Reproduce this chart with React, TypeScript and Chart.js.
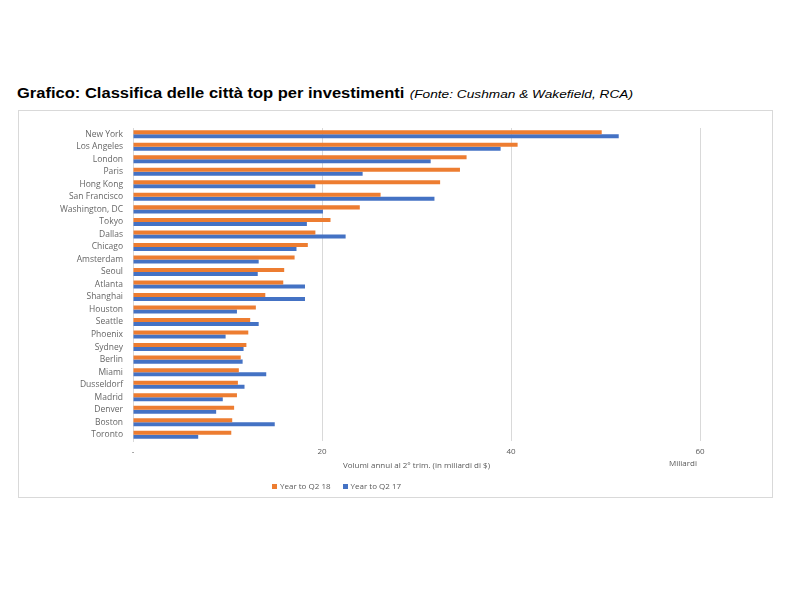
import React, { useEffect, useRef } from "react";
import { Chart, registerables } from "chart.js";

Chart.register(...registerables);

const cities = [
  "New York", "Los Angeles", "London", "Paris", "Hong Kong", "San Francisco",
  "Washington, DC", "Tokyo", "Dallas", "Chicago", "Amsterdam", "Seoul",
  "Atlanta", "Shanghai", "Houston", "Seattle", "Phoenix", "Sydney", "Berlin",
  "Miami", "Dusseldorf", "Madrid", "Denver", "Boston", "Toronto",
];
const yearQ218 = [
  49.6, 40.7, 35.3, 34.6, 32.5, 26.2, 24.0, 20.9, 19.3, 18.5, 17.1, 16.0,
  15.9, 14.0, 13.0, 12.4, 12.2, 12.0, 11.4, 11.2, 11.1, 11.0, 10.7, 10.5, 10.4,
];
const yearQ217 = [
  51.4, 38.9, 31.5, 24.3, 19.3, 31.9, 20.1, 18.4, 22.5, 17.3, 13.3, 13.2,
  18.2, 18.2, 11.0, 13.3, 9.8, 11.7, 11.6, 14.1, 11.8, 9.5, 8.8, 15.0, 6.9,
];
const seriesLabels = ["Year to Q2 18", "Year to Q2 17"];
const xTicks = [0, 20, 40, 60];
const xTickLabels = ["-", "20", "40", "60"];

const ORANGE = "#ED7D31";
const BLUE = "#4472C4";
const FONT = "'Open Sans', 'Liberation Sans', sans-serif";

export default function App() {
  const ref = useRef<HTMLCanvasElement | null>(null);

  useEffect(() => {
    if (!ref.current) return;
    const chart = new Chart(ref.current, {
      type: "bar",
      data: {
        labels: cities,
        datasets: [
          { label: seriesLabels[0], data: yearQ218, backgroundColor: ORANGE },
          { label: seriesLabels[1], data: yearQ217, backgroundColor: BLUE },
        ],
      },
      options: {
        indexAxis: "y",
        responsive: false,
        animation: false,
        layout: { padding: { top: 17, right: 72, bottom: 26, left: 0 } },
        datasets: { bar: { categoryPercentage: 0.64, barPercentage: 1 } },
        plugins: {
          legend: { display: false },
          tooltip: { enabled: false },
        },
        scales: {
          x: {
            min: 0,
            max: 60,
            afterBuildTicks: (s: any) => {
              s.ticks = xTicks.map((v) => ({ value: v }));
            },
            afterFit: (s: any) => {
              s.height = 30;
            },
            ticks: {
              padding: 6,
              color: "#595959",
              font: { family: FONT, size: 8 },
              callback: (v: any) => xTickLabels[xTicks.indexOf(Number(v))] ?? String(v),
            },
            grid: { color: "#d9d9d9", drawTicks: false },
            border: { display: false },
            title: {
              display: true,
              text: "Volumi annui al 2° trim. (in miliardi di $)",
              color: "#595959",
              font: { family: FONT, size: 8 },
              padding: { top: 1, bottom: 0 },
            },
          },
          y: {
            afterFit: (s: any) => {
              s.width = 114;
            },
            ticks: {
              padding: 10,
              color: "#666666",
              font: { family: FONT, size: 8.5 },
              autoSkip: false,
            },
            grid: { display: false, drawTicks: false },
            border: { display: true, color: "#d9d9d9" },
          },
        },
      },
    });
    return () => chart.destroy();
  }, []);

  const small: React.CSSProperties = {
    fontFamily: FONT,
    fontSize: 8,
    color: "#595959",
    position: "absolute",
    whiteSpace: "nowrap",
    lineHeight: "10px",
  };

  return (
    <div style={{ position: "relative", width: 784, height: 584 }}>
      <div
        style={{
          position: "absolute",
          left: 9,
          top: 77,
          whiteSpace: "nowrap",
          fontFamily: "'Liberation Sans', Arial, sans-serif",
          color: "#000",
          lineHeight: "16px",
          transform: "scaleX(1.18)",
          transformOrigin: "left center",
        }}
      >
        <span style={{ fontWeight: "bold", fontSize: 14 }}>
          Grafico: Classifica delle città top per investimenti
        </span>{" "}
        <span style={{ fontStyle: "italic", fontSize: 11.6 }}>
          (Fonte: Cushman &amp; Wakefield, RCA)
        </span>
      </div>
      <div
        style={{
          position: "absolute",
          left: 10,
          top: 102,
          width: 755,
          height: 388,
          boxSizing: "border-box",
          border: "1px solid #d9d9d9",
          background: "#fff",
        }}
      >
        <canvas
          ref={ref}
          width={753}
          height={386}
          style={{ position: "absolute", left: 0, top: 0 }}
        />
        <div style={{ ...small, right: 753 - 678, top: 347 }}>Miliardi</div>
        <div style={{ ...small, left: 253, top: 370, display: "flex", alignItems: "center" }}>
          <span style={{ display: "inline-block", width: 5, height: 5, background: ORANGE, marginRight: 3 }} />
          <span>{seriesLabels[0]}</span>
          <span style={{ display: "inline-block", width: 5, height: 5, background: BLUE, marginLeft: 12, marginRight: 3 }} />
          <span>{seriesLabels[1]}</span>
        </div>
      </div>
    </div>
  );
}
